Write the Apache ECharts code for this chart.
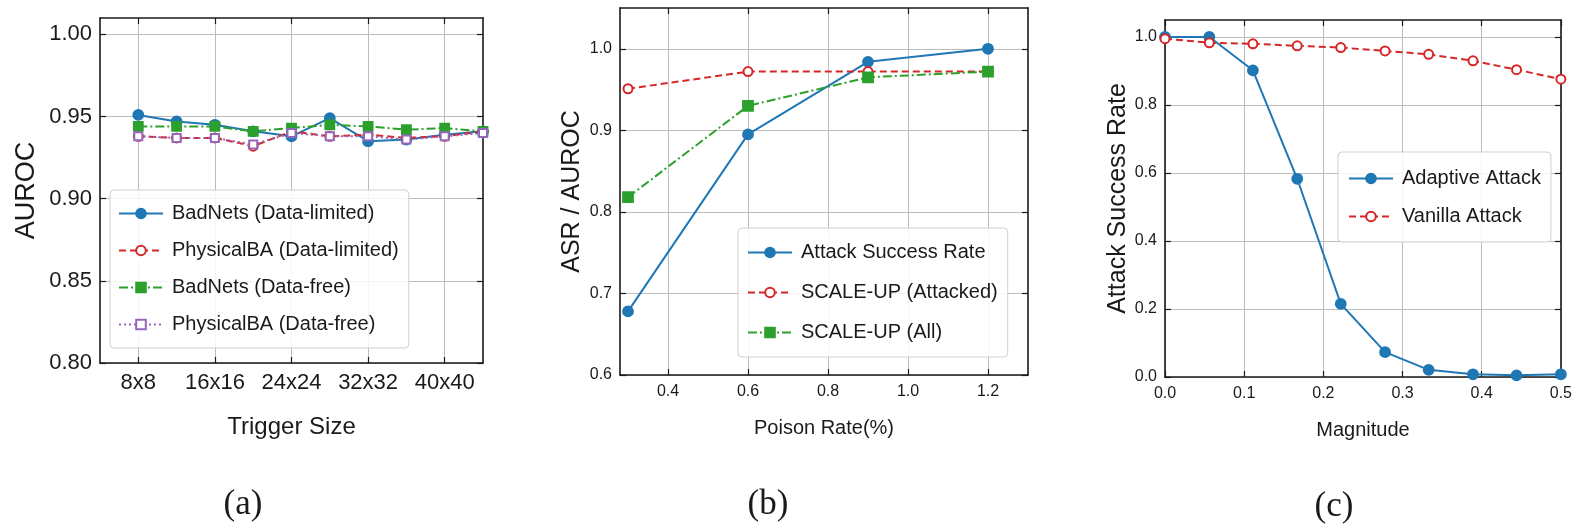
<!DOCTYPE html>
<html>
<head>
<meta charset="utf-8">
<script src="https://cdn.jsdelivr.net/npm/echarts@6/dist/echarts.min.js"></script>
<style>
  html, body { margin: 0; padding: 0; background: #fff; }
  #chart { width: 1575px; height: 525px; }
</style>
</head>
<body>
<div id="chart"></div>
<script>
// ---------- Panel (a): AUROC vs trigger size ----------
const aTriggerSizes = [8, 12, 16, 20, 24, 28, 32, 36, 40, 44];
const aTickValues = [8, 16, 24, 32, 40];
const aTickLabels = ['8x8', '16x16', '24x24', '32x32', '40x40'];
const aYTicks = [0.80, 0.85, 0.90, 0.95, 1.00];
const badNetsLimited   = [0.951, 0.947, 0.945, 0.941, 0.938, 0.949, 0.935, 0.936, 0.939, 0.941];
const physicalLimited  = [0.938, 0.937, 0.937, 0.932, 0.941, 0.938, 0.939, 0.937, 0.938, 0.941];
const badNetsFree      = [0.944, 0.944, 0.944, 0.941, 0.943, 0.945, 0.944, 0.942, 0.943, 0.941];
const physicalFree     = [0.938, 0.937, 0.937, 0.933, 0.940, 0.938, 0.938, 0.936, 0.938, 0.940];

// ---------- Panel (b): ASR / AUROC vs poison rate ----------
const bPoisonRates = [0.3, 0.6, 0.9, 1.2];
const bXTicks = [0.4, 0.6, 0.8, 1.0, 1.2];
const bYTicks = [0.6, 0.7, 0.8, 0.9, 1.0];
const attackSuccessRate = [0.678, 0.895, 0.984, 1.000];
const scaleUpAttacked   = [0.951, 0.972, 0.972, 0.972];
const scaleUpAll        = [0.818, 0.930, 0.965, 0.972];

// ---------- Panel (c): ASR vs magnitude ----------
const cMagnitudes = [0.0, 0.056, 0.111, 0.167, 0.222, 0.278, 0.333, 0.389, 0.444, 0.5];
const cXTicks = [0.0, 0.1, 0.2, 0.3, 0.4, 0.5];
const cYTicks = [0.0, 0.2, 0.4, 0.6, 0.8, 1.0];
const adaptiveAttack = [1.000, 1.000, 0.902, 0.583, 0.215, 0.073, 0.021, 0.008, 0.005, 0.008];
const vanillaAttack  = [0.995, 0.983, 0.980, 0.974, 0.969, 0.959, 0.949, 0.930, 0.904, 0.876];

const FONT = '"Liberation Sans", Arial, sans-serif';
const INK = '#1a1a1a';
const BLUE = '#1f77b4', RED = '#d62728', GREEN = '#2ca02c', PURPLE = '#9467bd';

function pairs(xs, ys) { return xs.map((x, i) => [x, ys[i]]); }

function xAxes(grid, min, max, ticks, fmt, fontSize, name, nameGap, nameSize) {
  const common = {
    type: 'value', gridIndex: grid, min: min, max: max,
    axisLine: { show: true, onZero: false, lineStyle: { color: INK, width: 1.6 } },
    axisTick: { show: true, inside: true, length: 6, customValues: ticks, lineStyle: { color: INK, width: 1.2 } },
  };
  return [
    Object.assign({}, common, {
      position: 'bottom',
      axisLabel: { show: true, customValues: ticks, formatter: fmt, fontFamily: FONT, fontSize: fontSize, color: INK, margin: 9 },
      splitLine: { show: true, lineStyle: { color: '#bdbdbd', width: 1 } },
      name: name, nameLocation: 'middle', nameGap: nameGap,
      nameTextStyle: { fontFamily: FONT, fontSize: nameSize, color: INK }
    }),
    Object.assign({}, common, {
      position: 'top',
      axisLabel: { show: false },
      splitLine: { show: false }
    })
  ];
}

function yAxes(grid, min, max, ticks, fmt, fontSize, name, nameGap, nameSize) {
  const common = {
    type: 'value', gridIndex: grid, min: min, max: max,
    axisLine: { show: true, onZero: false, lineStyle: { color: INK, width: 1.6 } },
    axisTick: { show: true, inside: true, length: 6, customValues: ticks, lineStyle: { color: INK, width: 1.2 } },
  };
  return [
    Object.assign({}, common, {
      position: 'left',
      axisLabel: { show: true, customValues: ticks, formatter: fmt, fontFamily: FONT, fontSize: fontSize, color: INK, margin: 8 },
      splitLine: { show: true, lineStyle: { color: '#bdbdbd', width: 1 } },
      name: name, nameLocation: 'middle', nameGap: nameGap, nameRotate: 90,
      nameTextStyle: { fontFamily: FONT, fontSize: nameSize, color: INK }
    }),
    Object.assign({}, common, {
      position: 'right',
      axisLabel: { show: false },
      splitLine: { show: false }
    })
  ];
}

function lineSeries(name, xi, yi, data, color, symbol, symbolSize, lineType, width) {
  return {
    name: name, type: 'line', xAxisIndex: xi, yAxisIndex: yi, data: data,
    symbol: symbol, symbolSize: symbolSize, showSymbol: true,
    lineStyle: { color: color, width: width || 2, type: lineType },
    itemStyle: { color: color, borderColor: color, borderWidth: 1.8 },
    emphasis: { disabled: true },
    animation: false, clip: true
  };
}

function legendBox(left, top, names, itemGap, padding) {
  return {
    orient: 'vertical', left: left, top: top, data: names,
    itemWidth: 44, itemHeight: 12, itemGap: itemGap, padding: padding,
    backgroundColor: 'rgba(255,255,255,0.85)', borderColor: '#cfcfcf', borderWidth: 1, borderRadius: 4,
    textStyle: { fontFamily: FONT, fontSize: 20, color: INK, lineHeight: 21, padding: [0, 0, 0, 4] },
    selectedMode: false
  };
}

const idx = (arr, labels) => (v) => {
  const i = arr.findIndex(t => Math.abs(t - v) < 1e-6);
  return i >= 0 ? labels[i] : '';
};

const option = {
  backgroundColor: '#fff',
  animation: false,
  grid: [
    { left: 100, top: 18, width: 383, height: 345 },
    { left: 620, top: 8, width: 408, height: 367 },
    { left: 1165, top: 20, width: 397, height: 357 }
  ],
  xAxis: [].concat(
    xAxes(0, 4, 44, aTickValues, idx(aTickValues, aTickLabels), 22, 'Trigger Size', 52, 24),
    xAxes(1, 0.28, 1.30, bXTicks, v => v.toFixed(1), 16, 'Poison Rate(%)', 43, 20),
    xAxes(2, 0, 0.5, cXTicks, v => v.toFixed(1), 16, 'Magnitude', 43, 20)
  ),
  yAxis: [].concat(
    yAxes(0, 0.80, 1.01, aYTicks, v => v.toFixed(2), 22, 'AUROC', 60, 27),
    yAxes(1, 0.60, 1.05, bYTicks, v => v.toFixed(1), 16, 'ASR / AUROC', 35, 25),
    yAxes(2, 0.0, 1.05, cYTicks, v => v.toFixed(1), 16, 'Attack Success Rate', 34, 25)
  ),
  legend: [
    legendBox(110, 190, ['BadNets (Data-limited)', 'PhysicalBA (Data-limited)', 'BadNets (Data-free)', 'PhysicalBA (Data-free)'], 16, [13, 10, 13, 8]),
    legendBox(738, 228, ['Attack Success Rate', 'SCALE-UP (Attacked)', 'SCALE-UP (All)'], 19, [14, 10, 14, 9]),
    legendBox(1338, 152, ['Adaptive Attack', 'Vanilla Attack'], 17, [16, 10, 15, 10])
  ],
  series: [
    lineSeries('BadNets (Data-limited)', 0, 0, pairs(aTriggerSizes, badNetsLimited), BLUE, 'circle', 10, 'solid'),
    lineSeries('PhysicalBA (Data-limited)', 0, 0, pairs(aTriggerSizes, physicalLimited), RED, 'emptyCircle', 9, [7, 4]),
    lineSeries('BadNets (Data-free)', 0, 0, pairs(aTriggerSizes, badNetsFree), GREEN, 'rect', 9, [9, 3, 2, 3]),
    lineSeries('PhysicalBA (Data-free)', 0, 0, pairs(aTriggerSizes, physicalFree), PURPLE, 'emptyRect', 8, [2, 3]),

    lineSeries('Attack Success Rate', 2, 2, pairs(bPoisonRates, attackSuccessRate), BLUE, 'circle', 10, 'solid'),
    lineSeries('SCALE-UP (Attacked)', 2, 2, pairs(bPoisonRates, scaleUpAttacked), RED, 'emptyCircle', 9, [7, 4]),
    lineSeries('SCALE-UP (All)', 2, 2, pairs(bPoisonRates, scaleUpAll), GREEN, 'rect', 10, [9, 3, 2, 3]),

    lineSeries('Adaptive Attack', 4, 4, pairs(cMagnitudes, adaptiveAttack), BLUE, 'circle', 10, 'solid'),
    lineSeries('Vanilla Attack', 4, 4, pairs(cMagnitudes, vanillaAttack), RED, 'emptyCircle', 9, [7, 4])
  ],
  graphic: [
    { type: 'text', x: 243, y: 505, style: { text: '(a)', font: '35px "Liberation Serif", "Times New Roman", serif', fill: INK, textAlign: 'center', textVerticalAlign: 'middle' } },
    { type: 'text', x: 768, y: 505, style: { text: '(b)', font: '35px "Liberation Serif", "Times New Roman", serif', fill: INK, textAlign: 'center', textVerticalAlign: 'middle' } },
    { type: 'text', x: 1334, y: 507, style: { text: '(c)', font: '35px "Liberation Serif", "Times New Roman", serif', fill: INK, textAlign: 'center', textVerticalAlign: 'middle' } }
  ]
};

const chart = echarts.init(document.getElementById('chart'), null, { renderer: 'canvas' });
chart.setOption(option);
</script>
</body>
</html>
